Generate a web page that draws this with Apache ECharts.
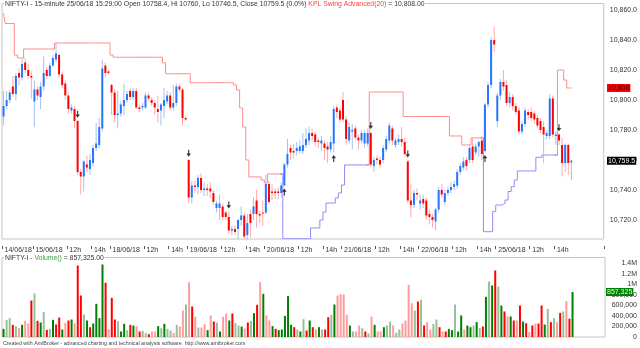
<!DOCTYPE html>
<html><head><meta charset="utf-8">
<script src="https://cdn.jsdelivr.net/npm/echarts@6/dist/echarts.min.js"></script>
<style>html,body{margin:0;padding:0;background:#fff}#c{width:640px;height:348px}</style>
</head><body><div id="c"></div>
<script>
// ---- data (15-minute bars, 14/06/18 13:00 .. 25/06/18 15:15) ----
const opens = [
10789,10796,10800,10809,10804,10818,10815,10825,10820,10816,
10799,10807,10802,10809,10820,10816,10823,10827,10830,10817,10811,10803,10793,10794,10786,10752,10749,10757,10754,10758,10768,10770,10781,10823,10819,
10810,10805,10790,10791,10796,10800,10806,10802,10806,10795,10795,10795,10803,10800,10798,10794,10793,10796,10799,10803,10795,10798,10809,10807,10788,
10760,10735,10743,10742,10748,10740,10741,10741,10738,10728,10728,10729,10725,10722,10713,10714,10714,10720,10723,10710,10724,10724,10733,10724,10725,
10725,10744,10739,10739,10739,10738,10743,10757,10768,10766,10766,10766,10766,10770,10773,10778,10777,10773,10771,10771,10769,10767,10771,10795,10793,
10800,10787,10773,10779,10781,10775,10773,10771,10771,10778,10756,10761,10760,10760,10767,10773,10781,10770,10772,10774,10772,10759,10733,10730,10738,
10731,10734,10733,10724,10722,10719,10727,10740,10732,10738,10740,10742,10743,10752,10755,10760,10760,10769,10765,10769,10773,10766,10797,10810,10840,
10786,10803,10812,10810,10798,10802,10796,10793,10779,10784,10792,10792,10791,10788,10786,10782,10776,10776,10801,10776,10777,10770,10758,10770,10758.4];
const highs = [
10806,10806,10807,10816,10818,10821,10828,10828,10824,10819,
10813,10809,10812,10829,10822,10825,10830,10838,10831,10819,10813,10805,10797,10796,10786.5,10754,10760,10763,10764,10770,10785,10788,10827,10825,10820,
10811,10807,10806,10799,10811,10806,10808,10808,10808,10797,10798,10805,10805,10802,10800,10803,10798,10808,10806,10805,10810,10811,10811,10808,10789,
10760.5,10746,10746,10750,10751,10745,10744,10745,10740,10733,10737,10731,10726,10726,10716,10716,10721,10729,10725,10724,10727,10735,10740,10726,10733,
10750,10746,10744,10741,10742,10745,10758,10774,10770,10771,10772,10773,10778,10781,10782,10781,10779,10775,10776,10773,10772,10776,10796,10797,10795,
10805.5,10789,10785,10784,10783,10777,10780,10780,10781,10779,10762,10763,10762,10770,10776,10785,10783,10775,10777,10782,10775,10760,10744,10740,10741,
10737,10737,10735,10727,10724,10728,10742,10744,10740,10742,10745,10746,10754,10758,10762,10762,10770,10775,10771,10773,10776,10798,10812,10842,10849,
10805,10814,10820,10813,10805,10804,10798,10795,10786,10795,10794,10795,10793,10790,10788,10786,10780,10804,10803,10779,10777.5,10775,10771,10771,10760];
const lows = [
10783,10794,10798,10802,10800,10810,10813,10818,10814,10801,
10782,10800,10794,10806,10814,10815,10822,10825,10815,10808,10800,10791,10791,10781,10750,10737,10739,10752,10750,10756,10766,10768,10779,10815,10817,
10790,10785,10781,10789,10790,10798,10800,10800,10794,10792,10793,10794,10799,10796,10790,10785,10783,10788,10797,10793,10793,10796,10805,10783,10786,
10731,10731,10738,10737,10738,10736,10736,10735,10730,10725,10720,10720,10720,10711,10710,10710,10707,10716,10707,10707,10708,10720,10715,10718,10716,
10724,10730,10733,10734,10734,10735,10742.7,10755,10760,10761,10763,10764,10764,10768,10770,10772,10769,10768,10766,10760,10758,10765,10765,10788,10785,
10785,10770,10771,10767,10773,10767,10771,10768,10769,10755,10752,10757,10755,10758,10765,10771,10770,10768,10770,10769,10762,10731,10722,10728,10733,
10727,10728,10720,10717,10715,10713,10725,10735,10730,10736,10738,10740,10741,10750,10753,10753,10758,10758,10763,10762,10760,10765,10795,10808,10832,
10782,10800,10806,10796,10795,10793,10790,10777,10777,10782,10787,10786,10784,10781,10778,10758,10774,10774,10775,10770,10770,10749,10752,10750,10746.5];
const closes = [
10796,10800,10805,10804,10816,10815,10824,10820,10816,10815,
10807,10803,10809,10818,10816,10823,10828,10831,10817,10810,10803,10794,10795,10786,10752,10749,10759,10755,10760,10768,10771,10782,10821,10818,10818,
10805,10790,10791,10797,10800,10804,10802,10806,10795,10794,10796,10803,10801,10798,10795,10792,10797,10800,10803,10795,10798,10809,10807,10788,10787,
10735,10743,10742,10748,10740,10741,10740,10739,10732,10731,10731,10722,10722,10713,10714,10712,10720,10723,10709,10718,10718,10729,10724,10723,10724.5,
10744,10732,10738,10738,10738,10743,10757,10764,10765,10765,10768,10769,10770,10774,10778,10776,10772,10772,10773,10768,10767,10772,10794,10792,10787,
10787,10774,10782,10780,10775,10773,10778,10778,10778,10757,10760,10760,10757,10768,10774,10783,10773,10773,10774,10772,10764,10733,10730,10738,10737,
10733,10731,10723,10722,10720,10727,10740,10737,10738,10740,10742,10744,10752,10756,10759,10756,10768,10760,10769,10772,10764,10797,10810,10840,10837,
10803,10812,10809,10798,10802,10796,10792,10779,10784,10793,10790,10788,10787,10783,10780,10777,10778,10801,10777,10777,10773,10758,10770,10758,10759.5];

const volume = [
155000,327000,359000,232000,206000,168000,232000,308000,257000,695000,
829000,308000,276000,473000,137000,155000,327000,238000,371000,143000,270000,314000,333000,257000,1362000,790000,429000,314000,187000,257000,632000,359000,1381000,1032000,150000,
746000,333000,302000,105000,251000,130000,232000,219000,206000,105000,117000,79000,54000,105000,105000,206000,168000,251000,155000,124000,79000,232000,200000,505000,619000,
1044000,581000,384000,181000,181000,244000,130000,410000,295000,276000,105000,384000,448000,314000,448000,263000,219000,200000,162000,276000,308000,454000,613000,1044000,822000,
410000,314000,206000,155000,130000,143000,403000,778000,232000,187000,143000,105000,340000,124000,314000,187000,143000,187000,143000,143000,378000,422000,619000,790000,816000,
810000,422000,219000,105000,105000,219000,168000,105000,67000,390000,232000,105000,105000,187000,219000,295000,219000,79000,143000,257000,314000,994000,644000,505000,676000,
708000,219000,283000,143000,251000,333000,187000,105000,105000,155000,130000,619000,105000,410000,143000,219000,187000,219000,283000,168000,200000,765000,1057000,981000,1267000,
962000,600000,486000,390000,390000,314000,314000,600000,295000,263000,92000,219000,257000,257000,600000,238000,537000,283000,359000,283000,460000,486000,683000,350000,857325];
// volume bar tone per bar: G dark green, g light green, R red, p pink
const volTone = [
  "GggRgpGppR","gRGgRgGRRG","pRGpRRgGRG","GGGRpRRgGG","gRGpRggRpp","GgGggpgppgp",
  "RpgppGpRgG","ppGRggGpRg","GRpGppGRGG","GGGRgGgRGR","pG",
  "gRRgGppppG","gppgRgpGpp","Gggpggpppp","gRgRppggRp","RGGgGGpGGg",
  "GgRGgGRgGR","pGRpRGRpRp","RRGgRgpRgp","RG"].join("");

// KPL Swing Advanced(20) trailing level, as runs [firstBar, lastBar, value]
const swingDownRuns = [[0,0,10858],[1,3,10851],[4,4,10830],[5,6,10828],[7,16,10834],[17,34,10838],[35,35,10830],[36,51,10828.5],[52,52,10824.7],[53,60,10817.5],[61,74,10811.5],[75,75,10810],[76,76,10806.7],[77,77,10794.7],[78,78,10782],[79,79,10760],[80,83,10748.7],[84,84,10746.7],[85,85,10744.7],[86,90,10750.7],[118,118,10756.7],[119,129,10805.3],[130,144,10789],[145,148,10776],[149,151,10770],[152,155,10774.7],[179,179,10763.3],[180,181,10820],[182,182,10813.3],[183,184,10808]];
const swingUpRuns = [[90,90,10750.7],[91,99,10707.5],[100,102,10714.7],[103,103,10720],[104,104,10725.3],[105,107,10731.3],[108,108,10734.7],[109,109,10738],[110,110,10743.3],[111,118,10756.7],[155,155,10774.7],[156,158,10712.2],[159,159,10725.6],[160,161,10730],[162,162,10731.1],[163,163,10733.3],[164,164,10739],[165,165,10742.2],[166,166,10746.7],[167,172,10752.7],[173,174,10761.8],[175,179,10763.3]];

const sellBars = [24, 60, 73, 119, 131, 180];
const buyBars = [91, 107, 156];

const tickBars = [0,10,21,29,35,46,54,60,71,79,85,96,104,110,121,129,135,146,154,160,171,179];
const tickLabels = ["14/06/18","15/06/18","12h","14h","18/06/18","12h","14h","19/06/18","12h","14h","20/06/18","12h","14h","21/06/18","12h","14h","22/06/18","12h","14h","25/06/18","12h","14h"];
const priceTicks = [10720,10740,10760,10780,10800,10820,10840,10860];
const volTicks = [0,200000,400000,600000,800000,1000000,1200000,1400000];

// ---- chart ----
const N = opens.length;
const SLOTS = 195;
const cats = Array.from({length: SLOTS}, (_, i) => String(i));
function expand(runs){ const a = new Array(N).fill(null); runs.forEach(([s,e,v]) => { for (let i=s;i<=e;i++) a[i]=v; }); return a; }
const swingDown = expand(swingDownRuns), swingUp = expand(swingUpRuns);
const tickSet = new Set(tickBars);
const labelMap = {}; tickBars.forEach((b,k)=>labelMap[b]=tickLabels[k]);
const toneColor = {G:'#008000', g:'#98c098', R:'#ff0000', p:'#ff9c9c'};
const FONT = 'Arial, "Liberation Sans", sans-serif';
const UPB='#2676ff', UPW='#a8c0f4', DNB='#ff0000', DNW='#ffaaaa';

const chart = echarts.init(document.getElementById('c'), null, {renderer:'canvas'});
const candleData = opens.map((o,i)=>[i,o,highs[i],lows[i],closes[i]]);
function renderCandle(params, api){
  const i=api.value(0), o=api.value(1), h=api.value(2), l=api.value(3), c=api.value(4);
  const up = c > o;
  const pO=api.coord([i,o]), pC=api.coord([i,c]), pH=api.coord([i,h]), pL=api.coord([i,l]);
  const x=pO[0];
  const top=Math.min(pO[1],pC[1]); const bh=Math.max(1,Math.abs(pO[1]-pC[1]));
  return {type:'group', children:[
    {type:'line', shape:{x1:x,y1:pH[1],x2:x,y2:pL[1]}, style:{stroke: up?UPW:DNW, lineWidth:1}},
    {type:'rect', shape:{x:x-1,y:top,width:2,height:bh}, style:{fill: up?UPB:DNB}}
  ]};
}
const downArrow = 'path://M3,0 L5,0 L5,6 L8,6 L4,11 L0,6 L3,6 Z';
const upArrow = 'path://M4,0 L8,5 L5,5 L5,11 L3,11 L3,5 L0,5 Z';

chart.setOption({
  animation:false,
  backgroundColor:'#fff',
  grid:[
    {left:2, top:3.5, width:604.5, height:235.5, show:true, borderColor:'#c4c4c4', borderWidth:1, backgroundColor:'transparent'},
    {left:2, top:257.5, width:604.5, height:79.5, show:true, borderColor:'#c4c4c4', borderWidth:1, backgroundColor:'transparent'}
  ],
  xAxis:[
    {type:'category', gridIndex:0, data:cats, boundaryGap:true, offset:7,
     axisLine:{show:false},
     axisTick:{show:true, interval:(i)=>tickSet.has(i), alignWithLabel:false, length:3, lineStyle:{color:'#555', width:1}},
     axisLabel:{show:true, interval:(i)=>tickSet.has(i), formatter:(v,i)=>labelMap[i]||'', align:'left', padding:[0,0,0,1], margin:1, fontSize:7, fontFamily:FONT, color:'#333'},
     splitLine:{show:false}},
    {type:'category', gridIndex:1, data:cats, boundaryGap:true, axisLine:{show:false}, axisTick:{show:false}, axisLabel:{show:false}, splitLine:{show:false}}
  ],
  yAxis:[
    {type:'value', gridIndex:0, position:'right', min:10707.33, max:10864.33, scale:true,
     axisLine:{show:false}, axisTick:{show:false}, splitLine:{show:false},
     axisLabel:{customValues:priceTicks, margin:6, fontSize:7, fontFamily:FONT, color:'#333',
       formatter:(v)=>Number(v).toLocaleString('en-US',{minimumFractionDigits:1,maximumFractionDigits:1})}},
    {type:'value', gridIndex:1, position:'right', min:0, max:1514000,
     axisLine:{show:false}, axisTick:{show:false}, splitLine:{show:false},
     axisLabel:{customValues:volTicks, margin:32, align:'right', fontSize:7, fontFamily:FONT, color:'#333',
       formatter:(v)=> v>=1000000 ? (v/1000000)+'M' : Number(v).toLocaleString('en-US')}}
  ],
  series:[
    {type:'line', xAxisIndex:0, yAxisIndex:0, data:swingDown, step:'middle', showSymbol:false, symbol:'none', connectNulls:false,
     lineStyle:{color:'#ff8c8c', width:1}, z:2},
    {type:'line', xAxisIndex:0, yAxisIndex:0, data:swingUp, step:'middle', showSymbol:false, symbol:'none', connectNulls:false,
     lineStyle:{color:'#8c8cff', width:1}, z:2},
    {type:'custom', xAxisIndex:0, yAxisIndex:0, renderItem:renderCandle, data:candleData, encode:{x:0, y:[1,2,3,4]}, z:3},
    {type:'scatter', xAxisIndex:0, yAxisIndex:0, data:sellBars.map(i=>[i,highs[i]]), symbol:downArrow, symbolSize:[4.5,7], symbolOffset:[0,-6], itemStyle:{color:'#000'}, z:5},
    {type:'scatter', xAxisIndex:0, yAxisIndex:0, data:buyBars.map(i=>[i,lows[i]]), symbol:upArrow, symbolSize:[4.5,7], symbolOffset:[0,6], itemStyle:{color:'#000'}, z:5},
    {type:'bar', xAxisIndex:1, yAxisIndex:1, barWidth:2, data:volume.map((v,i)=>({value:v, itemStyle:{color: toneColor[volTone[i]] || '#008000'}})), z:2}
  ]
});

const ySwing = chart.convertToPixel({yAxisIndex:0}, swingDown[N-1]);
const yClose = chart.convertToPixel({yAxisIndex:0}, closes[N-1]);
const yVol = chart.convertToPixel({yAxisIndex:1}, volume[N-1]);
const fmt2 = (v)=>Number(v).toLocaleString('en-US',{minimumFractionDigits:2,maximumFractionDigits:2});
chart.setOption({
  graphic:[
    {type:'text', left:4, top:0.5, z:50, style:{
      text:'{a|NIFTY-I - 15-minute 25/06/18 15:29:00 Open 10758.4, Hi 10760, Lo 10746.5, Close 10759.5 (0.0%) }{b|KPL Swing Advanced(20)}{a| = '+fmt2(swingDown[N-1])+'}',
      backgroundColor:'#fff', padding:[0,1,0,1],
      rich:{a:{fontSize:6.85, fontFamily:FONT, fill:'#333', color:'#333'}, b:{fontSize:6.85, fontFamily:FONT, fill:'#ff4040', color:'#ff4040'}}}},
    {type:'text', left:4, top:254.5, z:50, style:{
      text:'{a|NIFTY-I - }{g|Volume()}{a| = '+fmt2(volume[N-1])+'}',
      backgroundColor:'#fff', padding:[0,1,0,1],
      rich:{a:{fontSize:6.85, fontFamily:FONT, fill:'#333', color:'#333'}, g:{fontSize:6.85, fontFamily:FONT, fill:'#3c9c3c', color:'#3c9c3c'}}}},
    {type:'text', left:3, top:341.5, z:50, style:{text:'Created with AmiBroker - advanced charting and technical analysis software. http://www.amibroker.com', fontSize:5.3, fontFamily:FONT, fill:'#444'}},
    {type:'text', x:607, y:ySwing, z:60, style:{text:Number(swingDown[N-1]).toLocaleString('en-US'), fontSize:7, fontFamily:FONT, fill:'#3a0000', backgroundColor:'#ff0000', padding:[1,1,0,1], verticalAlign:'middle'}},
    {type:'text', x:607, y:yClose, z:60, style:{text:Number(closes[N-1]).toLocaleString('en-US',{minimumFractionDigits:1}), fontSize:7, fontFamily:FONT, fill:'#fff', backgroundColor:'#000', padding:[1,1,0,1], verticalAlign:'middle'}},
    {type:'text', x:606, y:yVol, z:60, style:{text:Math.round(volume[N-1]).toLocaleString('en-US'), fontSize:7, fontFamily:FONT, fill:'#d8ffd8', backgroundColor:'#008000', padding:[1,1,0,1], verticalAlign:'middle'}}
  ]
});
</script></body></html>
